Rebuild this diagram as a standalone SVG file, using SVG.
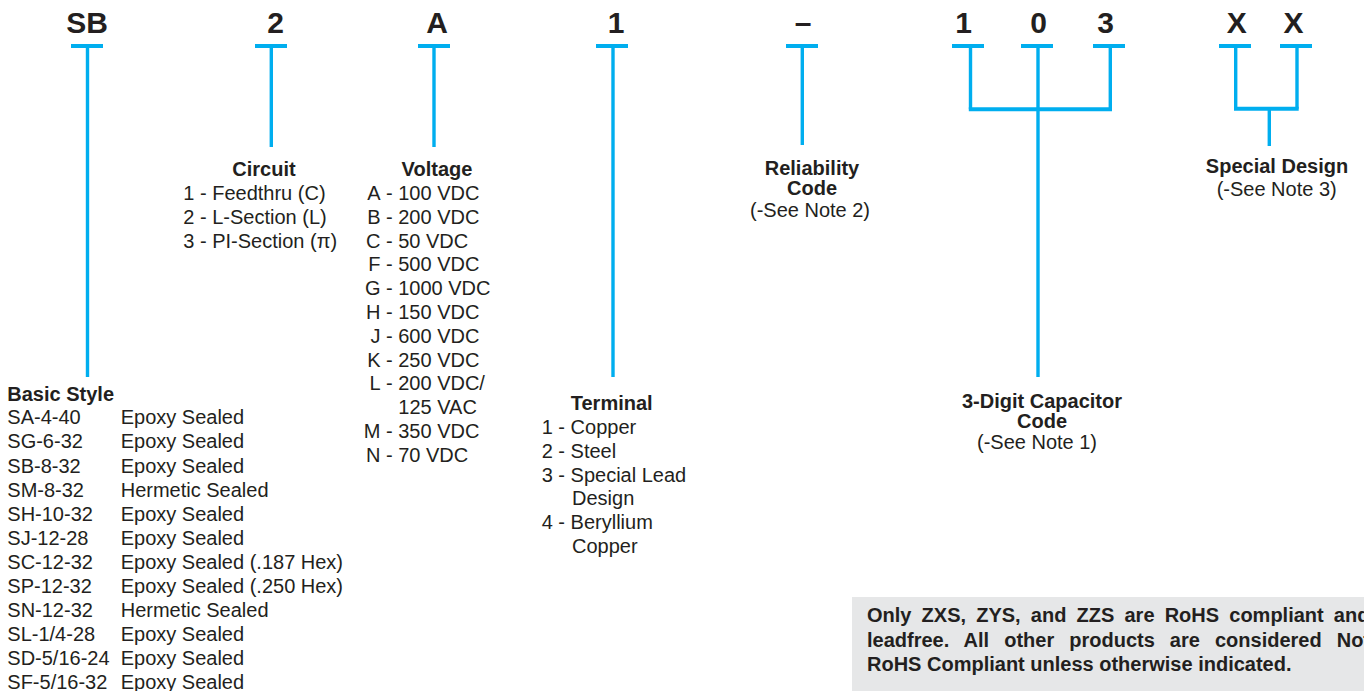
<svg xmlns="http://www.w3.org/2000/svg" width="1364" height="691" viewBox="0 0 1364 691">
<style>
  text { font-family: "Liberation Sans", Arial, sans-serif; fill: #231f20; }
  .big { font-size: 30px; font-weight: bold; text-anchor: middle; }
  .hd { font-size: 20px; font-weight: bold; }
  .c { text-anchor: middle; }
  .e { text-anchor: end; }
  .t { font-size: 20px; }
  .bar { stroke: #00aeef; stroke-width: 4; fill: none; }
  .ln { stroke: #00aeef; stroke-width: 3.4; fill: none; }
  .note { font-size: 20px; font-weight: bold; }
</style>
<rect width="1364" height="691" fill="#ffffff"/>

<g id="code">
  <text class="big" x="87" y="33.3">SB</text>
  <text class="big" x="275.5" y="33.3">2</text>
  <text class="big" x="437" y="33.3">A</text>
  <text class="big" x="616" y="33.3">1</text>
  <text class="big" x="803" y="33.3">–</text>
  <text class="big" x="963.5" y="33.3">1</text>
  <text class="big" x="1038.7" y="33.3">0</text>
  <text class="big" x="1105.5" y="33.3">3</text>
  <text class="big" x="1236.7" y="33.3">X</text>
  <text class="big" x="1293.5" y="33.3">X</text>
</g>

<g id="connectors">
  <path class="bar" d="M71 46H103 M255 46H287 M418 46H450 M596 46H628 M786 46H818 M952 46H984 M1021 46H1053 M1093 46H1125 M1219 46H1251 M1280 46H1312"/>
  <path class="ln" d="M87.5 48V377 M271.3 48V147 M434 48V147 M613 48V377 M802.3 48V145 M1038 48V377 M1269.3 108.7V146"/>
  <path class="ln" d="M970.5 48V109.3 M1110.3 48V109.3"/>
  <path class="bar" d="M968.8 109.3H1112"/>
  <path class="ln" d="M1235.7 48V108.7 M1297 48V108.7"/>
  <path class="bar" d="M1234 108.7H1298.7"/>
</g>

<g id="basic-style">
  <text class="hd" x="7.3" y="400.7">Basic Style</text>
  <text class="t" x="7.3" y="424.3">SA-4-40</text><text class="t" x="120.7" y="424.3">Epoxy Sealed</text>
  <text class="t" x="7.3" y="448.4">SG-6-32</text><text class="t" x="120.7" y="448.4">Epoxy Sealed</text>
  <text class="t" x="7.3" y="472.5">SB-8-32</text><text class="t" x="120.7" y="472.5">Epoxy Sealed</text>
  <text class="t" x="7.3" y="496.6">SM-8-32</text><text class="t" x="120.7" y="496.6">Hermetic Sealed</text>
  <text class="t" x="7.3" y="520.7">SH-10-32</text><text class="t" x="120.7" y="520.7">Epoxy Sealed</text>
  <text class="t" x="7.3" y="544.8">SJ-12-28</text><text class="t" x="120.7" y="544.8">Epoxy Sealed</text>
  <text class="t" x="7.3" y="568.9">SC-12-32</text><text class="t" x="120.7" y="568.9">Epoxy Sealed (.187 Hex)</text>
  <text class="t" x="7.3" y="593">SP-12-32</text><text class="t" x="120.7" y="593">Epoxy Sealed (.250 Hex)</text>
  <text class="t" x="7.3" y="617.1">SN-12-32</text><text class="t" x="120.7" y="617.1">Hermetic Sealed</text>
  <text class="t" x="7.3" y="641.2">SL-1/4-28</text><text class="t" x="120.7" y="641.2">Epoxy Sealed</text>
  <text class="t" x="7.3" y="665.3">SD-5/16-24</text><text class="t" x="120.7" y="665.3">Epoxy Sealed</text>
  <text class="t" x="7.3" y="689.4">SF-5/16-32</text><text class="t" x="120.7" y="689.4">Epoxy Sealed</text>
</g>

<g id="circuit">
  <text class="hd c" x="264" y="176">Circuit</text>
  <text class="t" x="183.3" y="200">1 - Feedthru (C)</text>
  <text class="t" x="183.3" y="223.8">2 - L-Section (L)</text>
  <text class="t" x="183.3" y="247.6">3 - PI-Section (π)</text>
</g>

<g id="voltage">
  <text class="hd c" x="437" y="176">Voltage</text>
  <text class="t e" x="380.5" y="200">A</text><text class="t" x="386" y="200">- 100 VDC</text>
  <text class="t e" x="380.5" y="223.8">B</text><text class="t" x="386" y="223.8">- 200 VDC</text>
  <text class="t e" x="380.5" y="247.6">C</text><text class="t" x="386" y="247.6">- 50 VDC</text>
  <text class="t e" x="380.5" y="271.4">F</text><text class="t" x="386" y="271.4">- 500 VDC</text>
  <text class="t e" x="380.5" y="295.2">G</text><text class="t" x="386" y="295.2">- 1000 VDC</text>
  <text class="t e" x="380.5" y="319">H</text><text class="t" x="386" y="319">- 150 VDC</text>
  <text class="t e" x="380.5" y="342.8">J</text><text class="t" x="386" y="342.8">- 600 VDC</text>
  <text class="t e" x="380.5" y="366.6">K</text><text class="t" x="386" y="366.6">- 250 VDC</text>
  <text class="t e" x="380.5" y="390.4">L</text><text class="t" x="386" y="390.4">- 200 VDC/</text>
  <text class="t" x="398.3" y="414.2">125 VAC</text>
  <text class="t e" x="380.5" y="438">M</text><text class="t" x="386" y="438">- 350 VDC</text>
  <text class="t e" x="380.5" y="461.8">N</text><text class="t" x="386" y="461.8">- 70 VDC</text>
</g>

<g id="terminal">
  <text class="hd c" x="611.7" y="410">Terminal</text>
  <text class="t" x="541.7" y="434">1 - Copper</text>
  <text class="t" x="541.7" y="457.8">2 - Steel</text>
  <text class="t" x="541.7" y="481.6">3 - Special Lead</text>
  <text class="t" x="572" y="505.4">Design</text>
  <text class="t" x="541.7" y="529.2">4 - Beryllium</text>
  <text class="t" x="572" y="553">Copper</text>
</g>

<g id="reliability">
  <text class="hd c" x="812" y="175">Reliability</text>
  <text class="hd c" x="812" y="195">Code</text>
  <text class="t c" x="810" y="216.7">(-See Note 2)</text>
</g>

<g id="capacitor-code">
  <text class="hd c" x="1042" y="408">3-Digit Capacitor</text>
  <text class="hd c" x="1042" y="427.5">Code</text>
  <text class="t c" x="1037" y="449">(-See Note 1)</text>
</g>

<g id="special-design">
  <text class="hd c" x="1277" y="173.3">Special Design</text>
  <text class="t c" x="1276.7" y="196">(-See Note 3)</text>
</g>

<g id="rohs-note">
  <rect x="852" y="597" width="530" height="100" fill="#e6e7e8"/>
  <text class="note" x="867" y="622" word-spacing="4.6">Only ZXS, ZYS, and ZZS are RoHS compliant and</text>
  <text class="note" x="867" y="647" word-spacing="9.5">leadfree. All other products are considered Not</text>
  <text class="note" x="867" y="671">RoHS Compliant unless otherwise indicated.</text>
</g>
</svg>
